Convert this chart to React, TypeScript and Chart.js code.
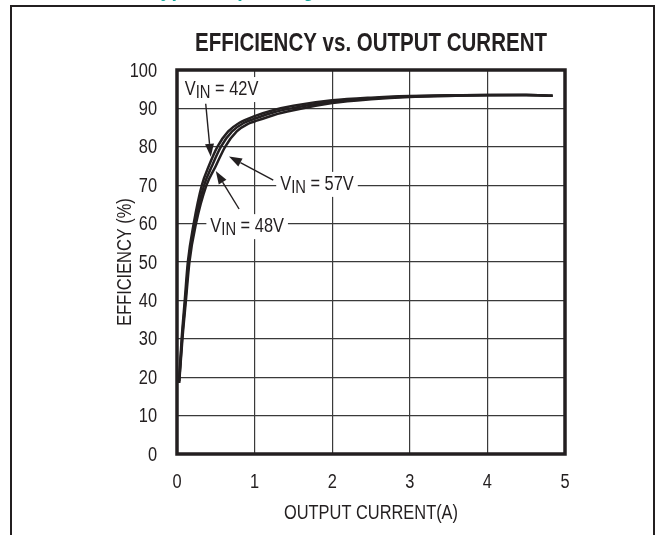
import React, { useEffect, useRef } from "react";
import { Chart, registerables } from "chart.js";

Chart.register(...registerables);

// ---------- data ----------
const TITLE = "EFFICIENCY vs. OUTPUT CURRENT";
const X_TITLE = "OUTPUT CURRENT(A)";
const Y_TITLE = "EFFICIENCY (%)";
const HEADER_TEXT = "Typical Operating Characteristics";

const X_MIN = 0;
const X_MAX = 5;
const X_STEP = 1;
const Y_MIN = 0;
const Y_MAX = 100;
const Y_STEP = 10;

const SERIES_NAMES = ["42V", "48V", "57V"];

const CURRENT_42V = [0.025, 0.06, 0.1, 0.14, 0.215, 0.32, 0.41, 0.52, 0.66, 0.8, 1.0, 1.25, 1.5, 2.0, 2.5, 3.0, 3.5, 4.0, 4.5, 4.84];
const EFF_42V = [18.5, 30, 40, 50, 60, 70, 75, 80, 84, 86.2, 88.0, 89.6, 90.7, 92.1, 92.8, 93.2, 93.4, 93.5, 93.5, 93.3];

const CURRENT_48V = [0.027, 0.065, 0.108, 0.15, 0.23, 0.35, 0.45, 0.565, 0.71, 0.86, 1.0, 1.25, 1.5, 2.0, 2.5, 3.0, 3.5, 4.0, 4.5, 4.84];
const EFF_48V = [18.5, 30, 40, 50, 60, 70, 75, 80, 84, 86.2, 87.3, 89.0, 90.1, 91.8, 92.6, 93.1, 93.35, 93.5, 93.5, 93.3];

const CURRENT_57V = [0.03, 0.07, 0.115, 0.16, 0.245, 0.38, 0.5, 0.62, 0.77, 0.92, 1.0, 1.25, 1.5, 2.0, 2.5, 3.0, 3.5, 4.0, 4.5, 4.84];
const EFF_57V = [19, 30, 40, 50, 60, 70, 75, 80, 84, 86.0, 86.6, 88.3, 89.5, 91.4, 92.4, 93.0, 93.25, 93.45, 93.5, 93.3];

// annotation anchors (data units): label left/center, arrow tail -> tip
const LABEL_42V = { x: 0.1, y: 95.3 };
const ARROW_42V = { x1: 0.37, y1: 91.2, x2: 0.435, y2: 77.4 };
const LABEL_57V = { x: 1.33, y: 70.6 };
const ARROW_57V = { x1: 1.24, y1: 71.3, x2: 0.67, y2: 77.5 };
const LABEL_48V = { x: 0.43, y: 59.6 };
const ARROW_48V = { x1: 0.8, y1: 63.8, x2: 0.5, y2: 73.7 };

// ---------- styling ----------
const FONT = '"Liberation Sans", Arial, sans-serif';
const NARROW = 0.82; // Arial Narrow ~ Arial compressed horizontally
const INK = "#231f20";
const TEAL = "#12a59c";

function toPoints(xs: number[], ys: number[]) {
  return xs.map((x, i) => ({ x, y: ys[i] }));
}

function narrowText(
  ctx: CanvasRenderingContext2D,
  text: string,
  x: number,
  y: number,
  font: string,
  align: CanvasTextAlign,
  baseline: CanvasTextBaseline,
  rotate = 0
) {
  ctx.save();
  ctx.font = font;
  ctx.textAlign = align;
  ctx.textBaseline = baseline;
  ctx.translate(x, y);
  if (rotate) ctx.rotate(rotate);
  ctx.scale(NARROW, 1);
  ctx.fillText(text, 0, 0);
  ctx.restore();
}

function drawArrow(ctx: CanvasRenderingContext2D, x1: number, y1: number, x2: number, y2: number) {
  const ang = Math.atan2(y2 - y1, x2 - x1);
  const head = 13;
  const half = 4.5;
  const bx = x2 - head * Math.cos(ang);
  const by = y2 - head * Math.sin(ang);
  ctx.save();
  ctx.strokeStyle = INK;
  ctx.fillStyle = INK;
  ctx.lineWidth = 1.4;
  ctx.beginPath();
  ctx.moveTo(x1, y1);
  ctx.lineTo(bx, by);
  ctx.stroke();
  ctx.beginPath();
  ctx.moveTo(x2, y2);
  ctx.lineTo(bx + half * Math.sin(ang), by - half * Math.cos(ang));
  ctx.lineTo(bx - half * Math.sin(ang), by + half * Math.cos(ang));
  ctx.closePath();
  ctx.fill();
  ctx.restore();
}

function drawVin(ctx: CanvasRenderingContext2D, left: number, cy: number, value: string) {
  const big = `20px ${FONT}`;
  const small = `18px ${FONT}`;
  ctx.save();
  ctx.font = big;
  const wV = ctx.measureText("V").width * NARROW;
  const rest = ` = ${value}`;
  const wR = ctx.measureText(rest).width * NARROW;
  ctx.font = small;
  const wIN = ctx.measureText("IN").width * NARROW;
  const total = wV + wIN + wR;
  ctx.fillStyle = "#ffffff";
  ctx.fillRect(left - 4, cy - 11, total + 8, 25);
  ctx.fillStyle = INK;
  const base = cy + 7;
  narrowText(ctx, "V", left, base, big, "left", "alphabetic");
  narrowText(ctx, "IN", left + wV, base + 3, small, "left", "alphabetic");
  narrowText(ctx, rest, left + wV + wIN, base, big, "left", "alphabetic");
  ctx.restore();
}

const decorPlugin = {
  id: "decor",
  beforeDraw(chart: any) {
    const { ctx, width, height } = chart;
    ctx.save();
    ctx.fillStyle = "#ffffff";
    ctx.fillRect(0, 0, width, height);
    ctx.restore();
  },
  afterDraw(chart: any) {
    const { ctx, chartArea: a, scales } = chart;
    const xs = scales.x;
    const ys = scales.y;
    const px = (v: number) => xs.getPixelForValue(v);
    const py = (v: number) => ys.getPixelForValue(v);

    ctx.save();
    // header (mostly cut off at top)
    ctx.fillStyle = TEAL;
    narrowText(ctx, HEADER_TEXT, 150, -4, `bold 24px ${FONT}`, "left", "alphabetic");

    // outer frame
    ctx.strokeStyle = INK;
    ctx.lineWidth = 2;
    ctx.beginPath();
    ctx.moveTo(11, chart.height + 2);
    ctx.lineTo(11, 6);
    ctx.lineTo(654, 6);
    ctx.lineTo(654, chart.height + 2);
    ctx.stroke();

    ctx.fillStyle = INK;
    // title
    narrowText(ctx, TITLE, (a.left + a.right) / 2, 44, `bold 25px ${FONT}`, "center", "middle");

    // tick labels from the scales
    const tickFont = `20px ${FONT}`;
    xs.ticks.forEach((t: any) => {
      narrowText(ctx, String(t.value), px(t.value), a.bottom + 28, tickFont, "center", "middle");
    });
    ys.ticks.forEach((t: any) => {
      narrowText(ctx, String(t.value), a.left - 20, py(t.value) + 1, tickFont, "right", "middle");
    });

    // axis titles
    narrowText(ctx, X_TITLE, (a.left + a.right) / 2, a.bottom + 59, `20px ${FONT}`, "center", "middle");
    narrowText(ctx, Y_TITLE, 125, (a.top + a.bottom) / 2, `20px ${FONT}`, "center", "middle", -Math.PI / 2);

    // annotations
    drawArrow(ctx, px(ARROW_42V.x1), py(ARROW_42V.y1), px(ARROW_42V.x2), py(ARROW_42V.y2));
    drawArrow(ctx, px(ARROW_57V.x1), py(ARROW_57V.y1), px(ARROW_57V.x2), py(ARROW_57V.y2));
    drawArrow(ctx, px(ARROW_48V.x1), py(ARROW_48V.y1), px(ARROW_48V.x2), py(ARROW_48V.y2));
    drawVin(ctx, px(LABEL_42V.x), py(LABEL_42V.y), SERIES_NAMES[0]);
    drawVin(ctx, px(LABEL_57V.x), py(LABEL_57V.y), SERIES_NAMES[2]);
    drawVin(ctx, px(LABEL_48V.x), py(LABEL_48V.y), SERIES_NAMES[1]);

    // plot frame
    ctx.strokeStyle = INK;
    ctx.lineWidth = 3.5;
    ctx.strokeRect(a.left, a.top, a.right - a.left, a.bottom - a.top);
    ctx.restore();
  },
};

export default function App() {
  const canvasRef = useRef<HTMLCanvasElement | null>(null);

  useEffect(() => {
    const canvas = canvasRef.current;
    if (!canvas) return;
    const lineStyle = {
      borderColor: INK,
      backgroundColor: INK,
      borderWidth: 2.5,
      pointRadius: 0,
      fill: false,
      cubicInterpolationMode: "monotone" as const,
    };
    const chart = new Chart(canvas, {
      type: "line",
      data: {
        datasets: [
          { label: SERIES_NAMES[0], data: toPoints(CURRENT_42V, EFF_42V), ...lineStyle },
          { label: SERIES_NAMES[1], data: toPoints(CURRENT_48V, EFF_48V), ...lineStyle },
          { label: SERIES_NAMES[2], data: toPoints(CURRENT_57V, EFF_57V), ...lineStyle },
        ],
      },
      options: {
        animation: false,
        responsive: false,
        devicePixelRatio: 1,
        layout: { padding: { left: 0, top: 70, right: 91, bottom: 0 } },
        plugins: {
          legend: { display: false },
          tooltip: { enabled: false },
          title: { display: false },
        },
        scales: {
          x: {
            type: "linear",
            min: X_MIN,
            max: X_MAX,
            afterFit: (s: any) => {
              s.height = 81;
            },
            ticks: { stepSize: X_STEP, display: false },
            grid: { color: "#3a3a3a", lineWidth: 1.2, drawTicks: false },
            border: { display: false },
            title: { display: false, text: X_TITLE },
          },
          y: {
            type: "linear",
            min: Y_MIN,
            max: Y_MAX,
            afterFit: (s: any) => {
              s.width = 177;
            },
            ticks: { stepSize: Y_STEP, display: false },
            grid: { color: "#3a3a3a", lineWidth: 1.2, drawTicks: false },
            border: { display: false },
            title: { display: false, text: Y_TITLE },
          },
        },
      },
      plugins: [decorPlugin],
    });
    return () => chart.destroy();
  }, []);

  return (
    <canvas
      ref={canvasRef}
      width={656}
      height={535}
      style={{ position: "fixed", left: 0, top: 0, width: 656, height: 535 }}
    />
  );
}
